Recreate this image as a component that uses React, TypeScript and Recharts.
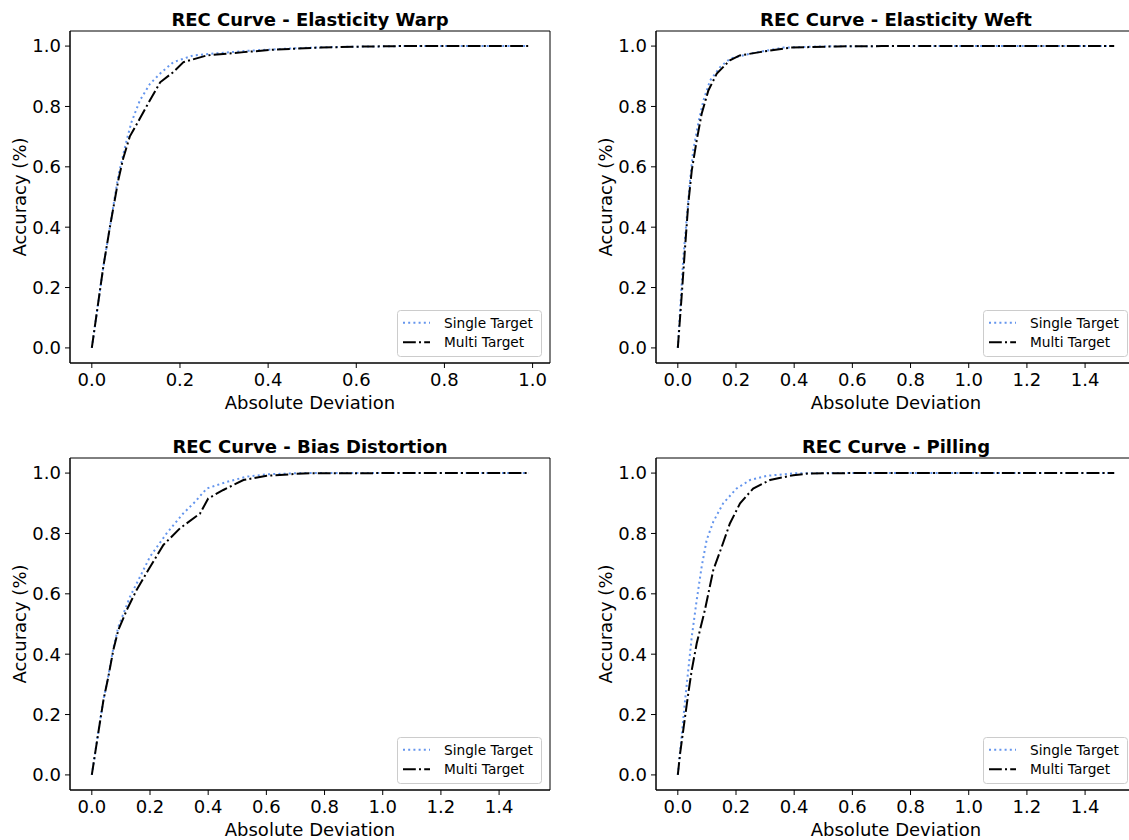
import React from 'react';
import { LineChart, Line, XAxis, YAxis, ReferenceArea, Legend, Label } from 'recharts';

const FONT = "'DejaVu Sans', sans-serif";
const SINGLE_COLOR = '#6495ED';
const MULTI_COLOR = '#000000';

// ---- Elasticity Warp ----
const warpSingleX = [0, 0.026, 0.041, 0.06, 0.079, 0.09, 0.109, 0.132, 0.155, 0.185, 0.23, 0.29, 0.36, 0.45, 0.52, 0.6, 0.7, 0.8, 0.9, 0.99];
const warpSingleY = [0, 0.268, 0.4, 0.57, 0.688, 0.748, 0.82, 0.875, 0.909, 0.947, 0.969, 0.977, 0.985, 0.992, 0.996, 0.998, 1, 1, 1, 1];
const warpMultiX = [0, 0.026, 0.041, 0.06, 0.071, 0.086, 0.109, 0.124, 0.155, 0.185, 0.208, 0.261, 0.345, 0.42, 0.519, 0.6, 0.7, 0.8, 0.9, 0.99];
const warpMultiY = [0, 0.268, 0.4, 0.555, 0.627, 0.7, 0.76, 0.8, 0.88, 0.914, 0.947, 0.969, 0.98, 0.989, 0.995, 0.998, 1, 1, 1, 1];

// ---- Elasticity Weft ----
const weftSingleX = [0, 0.019, 0.031, 0.042, 0.053, 0.07, 0.088, 0.111, 0.145, 0.179, 0.248, 0.363, 0.5, 0.7, 1.0, 1.5];
const weftSingleY = [0, 0.3, 0.434, 0.555, 0.655, 0.743, 0.82, 0.886, 0.93, 0.958, 0.975, 0.995, 0.999, 1, 1, 1];
const weftMultiX = [0, 0.013, 0.025, 0.036, 0.048, 0.065, 0.082, 0.105, 0.134, 0.179, 0.213, 0.282, 0.386, 0.546, 0.7, 1.0, 1.5];
const weftMultiY = [0, 0.169, 0.334, 0.478, 0.588, 0.688, 0.776, 0.853, 0.909, 0.953, 0.969, 0.98, 0.995, 0.999, 1, 1, 1];

// ---- Bias Distortion ----
const biasSingleX = [0, 0.022, 0.04, 0.057, 0.074, 0.091, 0.131, 0.166, 0.2, 0.257, 0.314, 0.355, 0.395, 0.464, 0.532, 0.601, 0.72, 1.0, 1.5];
const biasSingleY = [0, 0.14, 0.25, 0.33, 0.42, 0.49, 0.59, 0.657, 0.723, 0.8, 0.866, 0.905, 0.949, 0.971, 0.988, 0.996, 1, 1, 1];
const biasMultiX = [0, 0.022, 0.04, 0.057, 0.074, 0.091, 0.12, 0.154, 0.194, 0.246, 0.303, 0.372, 0.4, 0.452, 0.521, 0.601, 0.727, 1.0, 1.5];
const biasMultiY = [0, 0.138, 0.248, 0.326, 0.414, 0.48, 0.546, 0.613, 0.679, 0.762, 0.817, 0.866, 0.916, 0.944, 0.977, 0.991, 0.999, 1, 1];

// ---- Pilling ----
const pillSingleX = [0, 0.013, 0.025, 0.036, 0.048, 0.065, 0.082, 0.099, 0.122, 0.156, 0.202, 0.248, 0.306, 0.397, 0.5, 1.0, 1.5];
const pillSingleY = [0, 0.127, 0.248, 0.348, 0.458, 0.58, 0.69, 0.778, 0.839, 0.9, 0.949, 0.977, 0.991, 0.999, 1, 1, 1];
const pillMultiX = [0, 0.008, 0.025, 0.036, 0.048, 0.065, 0.093, 0.122, 0.151, 0.179, 0.214, 0.259, 0.317, 0.397, 0.454, 0.6, 1.0, 1.5];
const pillMultiY = [0, 0.072, 0.193, 0.27, 0.348, 0.436, 0.546, 0.679, 0.756, 0.833, 0.9, 0.949, 0.977, 0.993, 0.999, 1, 1, 1];

const yTicks = [0, 0.2, 0.4, 0.6, 0.8, 1.0];
const xTicksNarrow = [0, 0.2, 0.4, 0.6, 0.8, 1.0];
const xTicksWide = [0, 0.2, 0.4, 0.6, 0.8, 1.0, 1.2, 1.4];

const titles = [
  'REC Curve - Elasticity Warp',
  'REC Curve - Elasticity Weft',
  'REC Curve - Bias Distortion',
  'REC Curve - Pilling',
];
const seriesNames = ['Single Target', 'Multi Target'];

const zip = (xs: number[], ys: number[]) => xs.map((x, i) => ({ x, y: ys[i] }));

const SINGLE_DASH = '2 3.2';
const MULTI_DASH = '12.8 3.2 2 3.2';

function LegendBox() {
  return (
    <svg width={146} height={48} style={{ display: 'block' }}>
      <rect x={0.5} y={0.5} width={144} height={46} rx={3} ry={3} fill="#ffffff" fillOpacity={0.8} stroke="#cccccc" strokeWidth={1} />
      <line x1={6} x2={33} y1={12.7} y2={12.7} stroke={SINGLE_COLOR} strokeWidth={2} strokeDasharray={SINGLE_DASH} />
      <text x={47} y={12.7} dominantBaseline="central" fontSize={13.7} fontFamily={FONT} fill="#000">{seriesNames[0]}</text>
      <line x1={6} x2={33} y1={32.3} y2={32.3} stroke={MULTI_COLOR} strokeWidth={2} strokeDasharray={MULTI_DASH} />
      <text x={47} y={32.3} dominantBaseline="central" fontSize={13.7} fontFamily={FONT} fill="#000">{seriesNames[1]}</text>
    </svg>
  );
}

type PanelProps = {
  left: number;
  top: number;
  title: string;
  D: number;
  xTicks: number[];
  single: { x: number; y: number }[];
  multi: { x: number; y: number }[];
};

function Panel({ left, top, title, D, xTicks, single, multi }: PanelProps) {
  const dom: [number, number] = [-0.05 * D, 1.05 * D];
  const tickStyle = { fill: '#000', fontSize: 18, fontFamily: FONT };
  return (
    <div style={{ position: 'absolute', left, top }}>
      <LineChart width={570} height={413} margin={{ top: 31, right: 20, bottom: 4, left: 0 }}>
        <XAxis
          type="number"
          dataKey="x"
          domain={dom}
          ticks={xTicks}
          allowDataOverflow
          interval={0}
          tickFormatter={(v: number) => v.toFixed(1)}
          tick={tickStyle}
          tickLine={{ stroke: '#000' }}
          axisLine={{ stroke: '#000' }}
          tickSize={5}
          tickMargin={5}
          height={46}
        >
          <Label value="Absolute Deviation" position="insideBottom" offset={0} fill="#000" fontSize={18} fontFamily={FONT} />
        </XAxis>
        <YAxis
          type="number"
          domain={[-0.05, 1.05]}
          ticks={yTicks}
          allowDataOverflow
          interval={0}
          tickFormatter={(v: number) => v.toFixed(1)}
          tick={tickStyle}
          tickLine={{ stroke: '#000' }}
          axisLine={{ stroke: '#000' }}
          tickSize={5}
          tickMargin={4}
          width={70}
        >
          <Label
            content={(p: any) => {
              const vb = p.viewBox || { x: 0, y: 31, width: 70, height: 332 };
              const cy = vb.y + vb.height / 2;
              const cx = 19;
              return (
                <text x={cx} y={cy} transform={`rotate(-90 ${cx} ${cy})`} textAnchor="middle" dominantBaseline="central" fontSize={18} fontFamily={FONT} fill="#000">
                  Accuracy (%)
                </text>
              );
            }}
          />
        </YAxis>
        <Line data={single} dataKey="y" name={seriesNames[0]} type="linear" stroke={SINGLE_COLOR} strokeWidth={2} strokeDasharray={SINGLE_DASH} dot={false} activeDot={false} isAnimationActive={false} />
        <Line data={multi} dataKey="y" name={seriesNames[1]} type="linear" stroke={MULTI_COLOR} strokeWidth={2} strokeDasharray={MULTI_DASH} dot={false} activeDot={false} isAnimationActive={false} />
        <ReferenceArea x1={dom[0]} x2={dom[1]} y1={-0.05} y2={1.05} fill="none" fillOpacity={0} stroke="#000" strokeWidth={1} ifOverflow="visible">
          <Label
            content={(p: any) => {
              const vb = p.viewBox || { x: 70, y: 31, width: 480, height: 332 };
              return (
                <text x={vb.x + vb.width / 2} y={vb.y - 5.5} textAnchor="middle" fontSize={18} fontWeight="bold" fontFamily={FONT} fill="#000">
                  {title}
                </text>
              );
            }}
          />
        </ReferenceArea>
        <Legend
          layout="horizontal"
          verticalAlign="middle"
          align="center"
          content={() => <LegendBox />}
          wrapperStyle={{ position: 'absolute', left: 397, top: 310, width: 146, height: 48, margin: 0, lineHeight: 0 }}
        />
      </LineChart>
    </div>
  );
}

export default function App() {
  return (
    <div style={{ position: 'absolute', left: 0, top: 0, width: 1129, height: 840, overflow: 'hidden', background: '#fff' }}>
      <Panel left={0} top={0} title={titles[0]} D={0.99} xTicks={xTicksNarrow} single={zip(warpSingleX, warpSingleY)} multi={zip(warpMultiX, warpMultiY)} />
      <Panel left={586} top={0} title={titles[1]} D={1.5} xTicks={xTicksWide} single={zip(weftSingleX, weftSingleY)} multi={zip(weftMultiX, weftMultiY)} />
      <Panel left={0} top={427} title={titles[2]} D={1.5} xTicks={xTicksWide} single={zip(biasSingleX, biasSingleY)} multi={zip(biasMultiX, biasMultiY)} />
      <Panel left={586} top={427} title={titles[3]} D={1.5} xTicks={xTicksWide} single={zip(pillSingleX, pillSingleY)} multi={zip(pillMultiX, pillMultiY)} />
    </div>
  );
}
